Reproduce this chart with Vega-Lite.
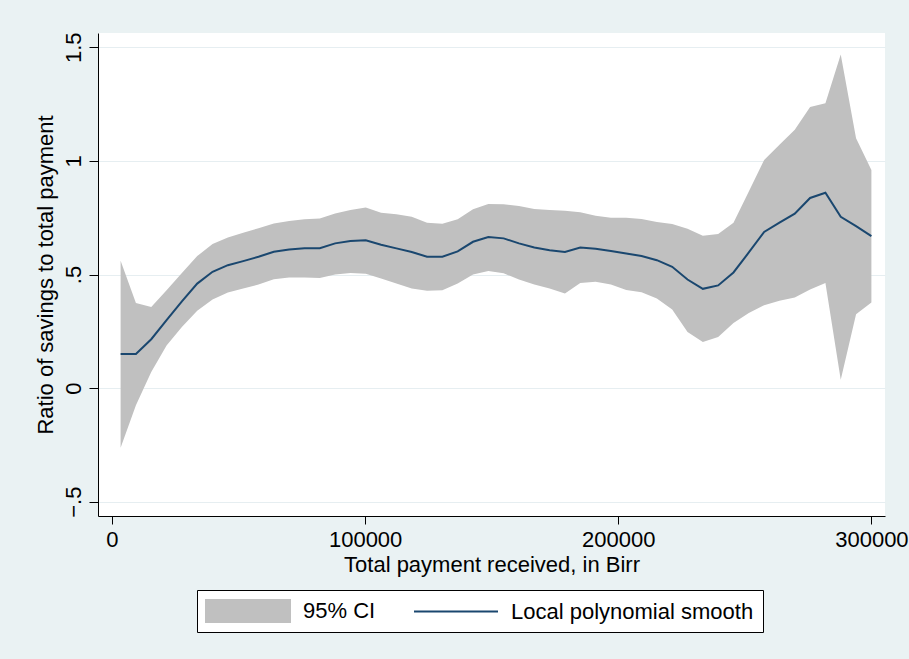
{
  "$schema": "https://vega.github.io/schema/vega-lite/v6.json",
  "autosize": "none",
  "width": 787,
  "height": 483,
  "padding": {"left": 98, "top": 33, "right": 24, "bottom": 143},
  "background": "#EAF2F3",
  "config": {
    "font": "Liberation Sans",
    "view": {"fill": "white", "stroke": null},
    "axis": {
      "labelFont": "Liberation Sans",
      "titleFont": "Liberation Sans",
      "labelFontSize": 22,
      "titleFontSize": 22,
      "titleFontWeight": "normal",
      "labelColor": "black",
      "titleColor": "black",
      "domainColor": "black",
      "domainWidth": 1,
      "tickColor": "black",
      "tickWidth": 1,
      "gridColor": "#E6EEF1",
      "gridWidth": 1.2
    },
    "legend": {
      "labelFont": "Liberation Sans",
      "labelFontSize": 22,
      "labelColor": "black",
      "labelLimit": 400,
      "symbolStrokeWidth": 0,
      "symbolOpacity": 1
    }
  },
  "data": {
    "values": [
      {"x": 3400, "fit": 0.150, "lo": -0.263, "hi": 0.560},
      {"x": 9453, "fit": 0.150, "lo": -0.076, "hi": 0.375},
      {"x": 15506, "fit": 0.215, "lo": 0.071, "hi": 0.357},
      {"x": 21559, "fit": 0.299, "lo": 0.188, "hi": 0.431},
      {"x": 27612, "fit": 0.382, "lo": 0.269, "hi": 0.507},
      {"x": 33665, "fit": 0.460, "lo": 0.340, "hi": 0.581},
      {"x": 39718, "fit": 0.512, "lo": 0.390, "hi": 0.634},
      {"x": 45771, "fit": 0.541, "lo": 0.421, "hi": 0.663},
      {"x": 51824, "fit": 0.559, "lo": 0.438, "hi": 0.684},
      {"x": 57877, "fit": 0.578, "lo": 0.456, "hi": 0.704},
      {"x": 63930, "fit": 0.600, "lo": 0.479, "hi": 0.725},
      {"x": 69983, "fit": 0.610, "lo": 0.487, "hi": 0.735},
      {"x": 76036, "fit": 0.615, "lo": 0.487, "hi": 0.743},
      {"x": 82089, "fit": 0.616, "lo": 0.485, "hi": 0.747},
      {"x": 88142, "fit": 0.637, "lo": 0.500, "hi": 0.769},
      {"x": 94195, "fit": 0.647, "lo": 0.507, "hi": 0.784},
      {"x": 100248, "fit": 0.651, "lo": 0.503, "hi": 0.795},
      {"x": 106301, "fit": 0.631, "lo": 0.482, "hi": 0.772},
      {"x": 112354, "fit": 0.615, "lo": 0.460, "hi": 0.765},
      {"x": 118407, "fit": 0.599, "lo": 0.438, "hi": 0.754},
      {"x": 124460, "fit": 0.578, "lo": 0.428, "hi": 0.728},
      {"x": 130513, "fit": 0.578, "lo": 0.431, "hi": 0.723},
      {"x": 136566, "fit": 0.602, "lo": 0.460, "hi": 0.743},
      {"x": 142619, "fit": 0.644, "lo": 0.500, "hi": 0.787},
      {"x": 148672, "fit": 0.665, "lo": 0.515, "hi": 0.810},
      {"x": 154725, "fit": 0.659, "lo": 0.505, "hi": 0.809},
      {"x": 160778, "fit": 0.637, "lo": 0.478, "hi": 0.801},
      {"x": 166831, "fit": 0.619, "lo": 0.456, "hi": 0.788},
      {"x": 172884, "fit": 0.607, "lo": 0.438, "hi": 0.784},
      {"x": 178937, "fit": 0.599, "lo": 0.416, "hi": 0.781},
      {"x": 184990, "fit": 0.619, "lo": 0.463, "hi": 0.774},
      {"x": 191043, "fit": 0.613, "lo": 0.468, "hi": 0.759},
      {"x": 197096, "fit": 0.603, "lo": 0.456, "hi": 0.750},
      {"x": 203149, "fit": 0.592, "lo": 0.432, "hi": 0.750},
      {"x": 209202, "fit": 0.581, "lo": 0.422, "hi": 0.744},
      {"x": 215255, "fit": 0.563, "lo": 0.394, "hi": 0.731},
      {"x": 221308, "fit": 0.534, "lo": 0.346, "hi": 0.722},
      {"x": 227361, "fit": 0.478, "lo": 0.247, "hi": 0.701},
      {"x": 233414, "fit": 0.437, "lo": 0.203, "hi": 0.671},
      {"x": 239467, "fit": 0.452, "lo": 0.225, "hi": 0.678},
      {"x": 245520, "fit": 0.509, "lo": 0.287, "hi": 0.728},
      {"x": 251573, "fit": 0.597, "lo": 0.331, "hi": 0.865},
      {"x": 257626, "fit": 0.687, "lo": 0.365, "hi": 1.004},
      {"x": 263679, "fit": 0.728, "lo": 0.384, "hi": 1.071},
      {"x": 269732, "fit": 0.768, "lo": 0.399, "hi": 1.137},
      {"x": 275785, "fit": 0.837, "lo": 0.434, "hi": 1.237},
      {"x": 281838, "fit": 0.860, "lo": 0.463, "hi": 1.254},
      {"x": 287891, "fit": 0.754, "lo": 0.037, "hi": 1.468},
      {"x": 293944, "fit": 0.713, "lo": 0.325, "hi": 1.100},
      {"x": 300000, "fit": 0.669, "lo": 0.377, "hi": 0.960}
    ]
  },
  "encoding": {
    "x": {
      "field": "x",
      "type": "quantitative",
      "scale": {"domain": [-5530, 305375], "nice": false, "zero": false},
      "axis": {
        "title": "Total payment received, in Birr",
        "values": [0, 100000, 200000, 300000],
        "format": "d",
        "grid": false,
        "tickSize": 8,
        "labelPadding": 5,
        "labelBaseline": "top",
        "titleBaseline": "alphabetic",
        "titleY": 55
      }
    }
  },
  "layer": [
    {
      "mark": {"type": "area", "opacity": 1},
      "encoding": {
        "y": {
          "field": "lo",
          "type": "quantitative",
          "scale": {"domain": [-0.563, 1.563], "nice": false, "zero": false},
          "axis": {
            "title": "Ratio of savings to total payment",
            "values": [-0.5, 0, 0.5, 1, 1.5],
            "labelExpr": "datum.value == -0.5 ? '\u2212.5' : datum.value == 0.5 ? '.5' : format(datum.value, '~g')",
            "grid": true,
            "tickSize": 9,
            "labelAngle": -90,
            "labelAlign": "center",
            "labelBaseline": "alphabetic",
            "labelPadding": 9,
            "titleAngle": -90,
            "titleAlign": "center",
            "titleBaseline": "alphabetic",
            "titleX": -46,
            "titleY": 241.5
          }
        },
        "y2": {"field": "hi"},
        "color": {
          "datum": "95% CI",
          "type": "nominal",
          "scale": {
            "domain": ["95% CI", "Local polynomial smooth"],
            "range": ["#C0C0C0", "#1A476F"]
          },
          "legend": {
            "title": null,
            "orient": "none",
            "legendX": 99,
            "legendY": 557,
            "direction": "horizontal",
            "padding": 9,
            "fillColor": "white",
            "strokeColor": "black",
            "cornerRadius": 0,
            "symbolSize": 576,
            "symbolOffset": 30,
            "labelOffset": 43,
            "columnPadding": 38,
            "encode": {
              "legend": {"update": {"strokeWidth": {"value": 1}}},
              "symbols": {
                "update": {
                  "shape": {"signal": "datum.value === '95% CI' ? 'M-3.583,-1L3.583,-1L3.583,1L-3.583,1Z' : 'M-3.5,-0.0833L3.5,-0.0833L3.5,0.0833L-3.5,0.0833Z'"},
                  "fill": {"signal": "datum.value === '95% CI' ? '#C0C0C0' : '#1A476F'"}
                }
              }
            }
          }
        }
      }
    },
    {
      "mark": {"type": "line", "strokeWidth": 2},
      "encoding": {
        "y": {"field": "fit", "type": "quantitative"},
        "color": {"datum": "Local polynomial smooth", "type": "nominal"}
      }
    }
  ]
}
